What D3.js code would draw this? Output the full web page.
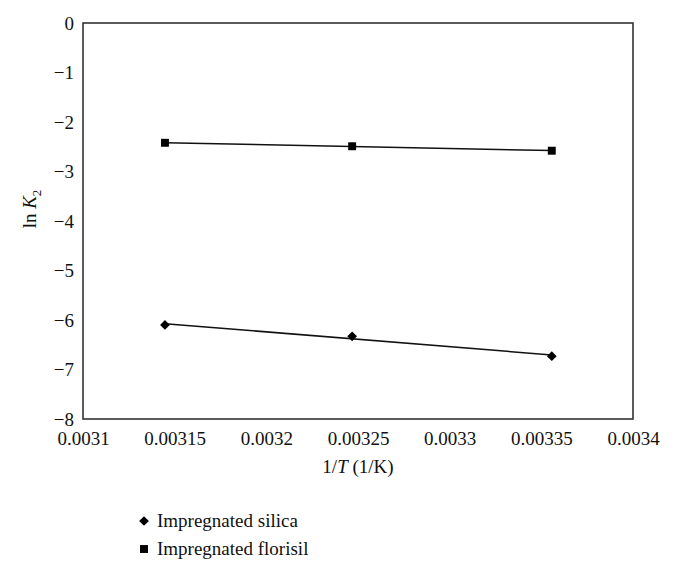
<!DOCTYPE html>
<html>
<head>
<meta charset="utf-8">
<script src="https://cdn.jsdelivr.net/npm/d3@7"></script>
<style>
  html, body { margin: 0; padding: 0; background: #fff; }
  svg { display: block; }
  text { font-family: "Liberation Serif", "DejaVu Serif", serif; fill: #111; }
</style>
</head>
<body>
<svg id="chart" width="674" height="575"></svg>
<script>
// Data
const invT = [0.0031447, 0.0032468, 0.0033557];
const silica = [-6.10, -6.33, -6.73];
const florisil = [-2.42, -2.49, -2.58];
const seriesNames = ["Impregnated silica", "Impregnated florisil"];
const xTicks = [0.0031, 0.00315, 0.0032, 0.00325, 0.0033, 0.00335, 0.0034];
const yTicks = [0, -1, -2, -3, -4, -5, -6, -7, -8];

const svg = d3.select("#chart");
const m = { left: 83, right: 633, top: 23, bottom: 419 };

const x = d3.scaleLinear().domain([0.0031, 0.0034]).range([m.left, m.right]);
const y = d3.scaleLinear().domain([-8, 0]).range([m.bottom, m.top]);

// frame
svg.append("rect")
  .attr("x", m.left).attr("y", m.top)
  .attr("width", m.right - m.left).attr("height", m.bottom - m.top)
  .attr("fill", "none").attr("stroke", "#333").attr("stroke-width", 1.6);

// axes (labels only)
const xAxis = svg.append("g").attr("transform", `translate(0,${m.bottom})`)
  .call(d3.axisBottom(x).tickValues(xTicks).tickSize(0).tickPadding(13)
    .tickFormat(d => String(+d.toFixed(5))));
const yAxis = svg.append("g").attr("transform", `translate(${m.left},0)`)
  .call(d3.axisLeft(y).tickValues(yTicks).tickSize(0).tickPadding(9)
    .tickFormat(d => d < 0 ? "\u2212" + Math.abs(d) : String(d)));
[xAxis, yAxis].forEach(g => {
  g.select(".domain").remove();
  g.selectAll("text").attr("font-size", 19).attr("fill", "#111")
    .attr("font-family", '"Liberation Serif", "DejaVu Serif", serif');
});

// axis titles
const xt = svg.append("text").attr("x", (m.left + m.right) / 2).attr("y", 473)
  .attr("text-anchor", "middle").attr("font-size", 19);
xt.append("tspan").text("1/");
xt.append("tspan").attr("font-style", "italic").text("T");
xt.append("tspan").text(" (1/K)");

const yt = svg.append("text")
  .attr("transform", `translate(36,${(m.top + m.bottom) / 2 - 12}) rotate(-90)`)
  .attr("text-anchor", "middle").attr("font-size", 19);
yt.append("tspan").text("ln ");
yt.append("tspan").attr("font-style", "italic").text("K");
yt.append("tspan").attr("font-size", 13).attr("dy", 5).text("2");

// linear trendlines
function fit(xs, ys) {
  const mx = d3.mean(xs), my = d3.mean(ys);
  const b = d3.sum(xs, (v, i) => (v - mx) * (ys[i] - my)) / d3.sum(xs, v => (v - mx) ** 2);
  return v => my + b * (v - mx);
}
const series = [
  { name: seriesNames[0], vals: silica, sym: d3.symbolDiamond2, size: 60 },
  { name: seriesNames[1], vals: florisil, sym: d3.symbolSquare2, size: 80 }
];
series.forEach(s => {
  const f = fit(invT, s.vals);
  const x0 = d3.min(invT), x1 = d3.max(invT);
  svg.append("line")
    .attr("x1", x(x0)).attr("y1", y(f(x0)))
    .attr("x2", x(x1)).attr("y2", y(f(x1)))
    .attr("stroke", "#111").attr("stroke-width", 1.5);
  svg.selectAll(null).data(invT.map((t, i) => [t, s.vals[i]])).enter()
    .append("path")
    .attr("transform", d => `translate(${x(d[0])},${y(d[1])})`)
    .attr("d", d3.symbol().type(s.sym).size(s.size)())
    .attr("fill", "#000");
});

// legend
const leg = svg.append("g");
series.forEach((s, i) => {
  const ly = 521 + i * 28;
  leg.append("path")
    .attr("transform", `translate(144,${ly})`)
    .attr("d", d3.symbol().type(s.sym).size(s.size)())
    .attr("fill", "#000");
  leg.append("text").attr("x", 157).attr("y", ly + 6)
    .attr("font-size", 19).text(s.name);
});
</script>
</body>
</html>
